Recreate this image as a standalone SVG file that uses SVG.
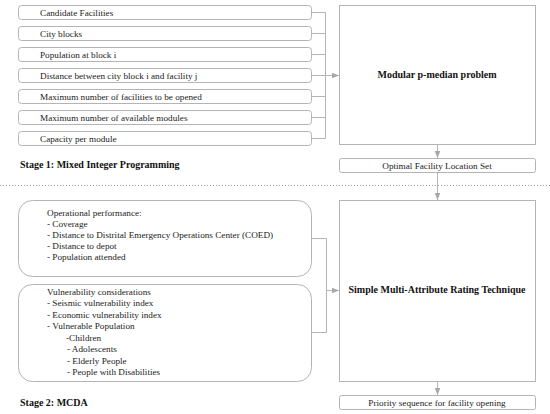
<svg xmlns="http://www.w3.org/2000/svg" width="550" height="414" viewBox="0 0 550 414">
<style>
.box{fill:#fff;stroke:#b4b4b4;stroke-width:1}
.ln{fill:none;stroke:#b4b4b4;stroke-width:1}
.t{font-family:"Liberation Serif","DejaVu Serif",serif;font-size:9.2px;fill:#222}
.b{font-family:"Liberation Serif","DejaVu Serif",serif;font-size:10px;font-weight:bold;fill:#111}
.c{text-anchor:middle}
</style>
<defs>
<marker id="ah" viewBox="0 0 10 10" refX="10" refY="5" markerWidth="7" markerHeight="7" orient="auto" markerUnits="userSpaceOnUse">
<path d="M0,1 L10,5 L0,9 Z" fill="#a8a8a8"/>
</marker>
</defs>
<rect width="550" height="414" fill="#fff"/>
<g id="inputs">
<g id="in1"><rect class="box" x="18.5" y="5.5" width="293" height="14" rx="3"/><text class="t" x="40" y="15.5">Candidate Facilities</text></g>
<g id="in2"><rect class="box" x="18.5" y="26.5" width="293" height="14" rx="3"/><text class="t" x="40" y="36.5">City blocks</text></g>
<g id="in3"><rect class="box" x="18.5" y="47.5" width="293" height="14" rx="3"/><text class="t" x="40" y="57.5">Population at block i</text></g>
<g id="in4"><rect class="box" x="18.5" y="68.5" width="293" height="14" rx="3"/><text class="t" x="40" y="78.5">Distance between city block i and facility j</text></g>
<g id="in5"><rect class="box" x="18.5" y="89.5" width="293" height="14" rx="3"/><text class="t" x="40" y="99.5">Maximum number of  facilities to be opened</text></g>
<g id="in6"><rect class="box" x="18.5" y="110.5" width="293" height="14" rx="3"/><text class="t" x="40" y="120.5">Maximum number of  available modules</text></g>
<g id="in7"><rect class="box" x="18.5" y="131.5" width="293" height="14" rx="3"/><text class="t" x="40" y="141.5">Capacity per module</text></g>
</g>
<g id="pmedian"><rect class="box" x="339.5" y="5.5" width="196" height="139"/><text class="b c" x="437" y="78">Modular p-median problem</text></g>
<g id="optimal"><rect class="box" x="339.5" y="158.5" width="196" height="14" rx="2"/><text class="t c" x="437" y="168.5">Optimal Facility Location Set</text></g>
<g id="stage1"><text class="b" x="20" y="168">Stage 1: Mixed Integer Programming</text></g>
<line x1="0" y1="185.5" x2="550" y2="185.5" stroke="#9a9a9a" stroke-width="1" stroke-dasharray="1,2"/>
<g id="operational"><rect class="box" x="18.5" y="200.5" width="293" height="76" rx="14"/>
<text class="t" x="47" y="216">Operational performance:</text>
<text class="t" x="47" y="227">- Coverage</text>
<text class="t" x="47" y="238">- Distance to Distrital Emergency Operations Center (COED)</text>
<text class="t" x="47" y="249">- Distance to depot</text>
<text class="t" x="47" y="260">- Population attended</text>
</g>
<g id="vulnerability"><rect class="box" x="18.5" y="284.5" width="293" height="97" rx="14"/>
<text class="t" x="47" y="294.5">Vulnerability considerations</text>
<text class="t" x="47" y="306">- Seismic vulnerability index</text>
<text class="t" x="47" y="317.5">- Economic vulnerability index</text>
<text class="t" x="47" y="329">- Vulnerable Population</text>
<text class="t" x="66" y="340.5">-Children</text>
<text class="t" x="67" y="352">- Adolescents</text>
<text class="t" x="67" y="363.5">- Elderly People</text>
<text class="t" x="67" y="375">- People with Disabilities</text>
</g>
<g id="smart"><rect class="box" x="339.5" y="200.5" width="196" height="181"/><text class="b c" x="437" y="293">Simple Multi-Attribute Rating Technique</text></g>
<g id="priority"><rect class="box" x="339.5" y="395.5" width="196" height="14" rx="2"/><text class="t c" x="437" y="405.5">Priority sequence for facility opening</text></g>
<g id="stage2"><text class="b" x="20" y="406">Stage 2: MCDA</text></g>
<g id="connectors">
<path class="ln" d="M311.5,12.5 H325.5 M311.5,33.5 H325.5 M311.5,54.5 H325.5 M311.5,96.5 H325.5 M311.5,117.5 H325.5 M311.5,138.5 H325.5 M325.5,12.5 V138.5"/>
<path class="ln" d="M311.5,75.5 H339" marker-end="url(#ah)"/>
<path class="ln" d="M437.5,145 V158" marker-end="url(#ah)"/>
<path class="ln" d="M437.5,173 V200" marker-end="url(#ah)"/>
<path class="ln" d="M311.5,238.5 H326.5 V332.5 H311.5"/>
<path class="ln" d="M326.5,290.5 H339" marker-end="url(#ah)"/>
<path class="ln" d="M437.5,382 V395" marker-end="url(#ah)"/>
</g>
</svg>
